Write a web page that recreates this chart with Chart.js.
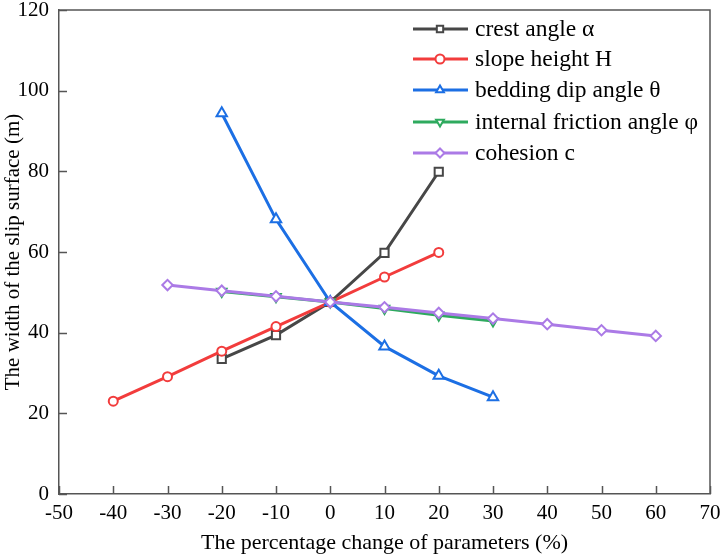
<!DOCTYPE html>
<html>
<head>
<meta charset="utf-8">
<script src="https://cdn.jsdelivr.net/npm/chart.js@4/dist/chart.umd.min.js"></script>
<style>
  body { margin: 0; background: #fff; }
</style>
</head>
<body>
<canvas id="slipChart" width="722" height="556"></canvas>
<script>
// data
const crestX = [-20, -10, 0, 10, 20];
const crestY = [33.5, 39.4, 47.6, 59.8, 79.9];
const heightX = [-40, -30, -20, -10, 0, 10, 20];
const heightY = [23.0, 29.1, 35.4, 41.5, 47.6, 53.8, 59.9];
const dipX = [-20, -10, 0, 10, 20, 30];
const dipY = [94.4, 68.1, 47.6, 36.6, 29.3, 24.0];
const frictionX = [-20, -10, 0, 10, 20, 30];
const frictionY = [50.2, 48.9, 47.6, 46.0, 44.3, 42.9];
const cohesionX = [-30, -20, -10, 0, 10, 20, 30, 40, 50, 60];
const cohesionY = [51.8, 50.4, 49.0, 47.6, 46.3, 44.9, 43.5, 42.1, 40.6, 39.2];

const xTicks = [-50, -40, -30, -20, -10, 0, 10, 20, 30, 40, 50, 60, 70];
const yTicks = [0, 20, 40, 60, 80, 100, 120];

const FONT = '"Liberation Serif", "Times New Roman", serif';
const AXIS = '#555555';

function pts(xs, ys) {
    return xs.map((x, i) => ({ x: x, y: ys[i] }));
}

function series(label, xs, ys, color, style, radius, order, rotation) {
    return {
        label: label,
        data: pts(xs, ys),
        borderColor: color,
        backgroundColor: '#ffffff',
        borderWidth: 3,
        pointStyle: style,
        pointRadius: radius,
        pointHoverRadius: radius,
        pointBorderWidth: 2,
        pointBorderColor: color,
        pointBackgroundColor: '#ffffff',
        pointRotation: rotation || 0,
        tension: 0,
        order: order
    };
}

// inward ticks + top/right frame
const frameTicks = {
    id: 'frameTicks',
    afterDraw(chart) {
        const ctx = chart.ctx;
        const a = chart.chartArea;
        const xs = chart.scales.x, ys = chart.scales.y;
        ctx.save();
        ctx.strokeStyle = AXIS;
        ctx.lineWidth = 1.5;
        ctx.beginPath();
        ctx.moveTo(a.left, a.top);
        ctx.lineTo(a.right, a.top);
        ctx.lineTo(a.right, a.bottom);
        xTicks.forEach(v => {
            const px = Math.round(xs.getPixelForValue(v)) + 0.5;
            ctx.moveTo(px, a.bottom);
            ctx.lineTo(px, a.bottom - 8);
        });
        yTicks.forEach(v => {
            const py = Math.round(ys.getPixelForValue(v)) + 0.5;
            ctx.moveTo(a.left, py);
            ctx.lineTo(a.left + 8, py);
        });
        ctx.stroke();
        ctx.restore();
    }
};

// legend in the top right corner, line + marker sample
const lineLegend = {
    id: 'lineLegend',
    afterDraw(chart) {
        const ctx = chart.ctx;
        const rows = [29, 59, 90, 122, 153];
        ctx.save();
        ctx.font = '23.5px ' + FONT;
        ctx.textBaseline = 'middle';
        chart.data.datasets.forEach((ds, i) => {
            const y = rows[i];
            ctx.strokeStyle = ds.borderColor;
            ctx.lineWidth = 3;
            ctx.beginPath();
            ctx.moveTo(413, y);
            ctx.lineTo(468, y);
            ctx.stroke();
            ctx.fillStyle = '#ffffff';
            ctx.strokeStyle = ds.borderColor;
            ctx.lineWidth = 2;
            Chart.helpers.drawPoint(ctx, {
                pointStyle: ds.pointStyle,
                rotation: ds.pointRotation,
                radius: 4.5,
                borderWidth: 2
            }, 440, y);
            ctx.fillStyle = '#000';
            ctx.fillText(ds.label, 475, y + 1);
        });
        ctx.restore();
    }
};

const ctx = document.getElementById('slipChart').getContext('2d');
const slipChart = new Chart(ctx, {
    type: 'line',
    data: {
        datasets: [
            series('crest angle \u03b1', crestX, crestY, '#474747', 'rect', 5.8, 4),
            series('slope height H', heightX, heightY, '#f23c3c', 'circle', 4.5, 3),
            series('bedding dip angle \u03b8', dipX, dipY, '#1c6fe4', 'triangle', 6, 2),
            series('internal friction angle \u03c6', frictionX, frictionY, '#2eaa5e', 'triangle', 5.5, 1, 180),
            series('cohesion c', cohesionX, cohesionY, '#ab7ae6', 'rectRot', 5.2, 0)
        ]
    },
    options: {
        responsive: false,
        animation: false,
        layout: { padding: { top: 10, right: 12, left: 0, bottom: 0 } },
        plugins: {
            legend: { display: false },
            tooltip: { enabled: false }
        },
        scales: {
            x: {
                type: 'linear',
                min: -50,
                max: 70,
                grid: { display: false, drawTicks: false },
                border: { display: true, color: AXIS, width: 1.5 },
                ticks: {
                    stepSize: 10,
                    padding: 7,
                    color: '#000',
                    maxRotation: 0,
                    font: { family: FONT, size: 21 }
                },
                title: {
                    display: true,
                    text: 'The percentage change of parameters (%)',
                    color: '#000',
                    font: { family: FONT, size: 22 },
                    padding: { top: 0, bottom: 0 }
                },
                afterFit(scale) {
                    scale.height = 62;
                    scale.paddingLeft = 0;
                    scale.paddingRight = 0;
                }
            },
            y: {
                min: 0,
                max: 120,
                grid: { display: false, drawTicks: false },
                border: { display: true, color: AXIS, width: 1.5 },
                ticks: {
                    stepSize: 20,
                    padding: 10,
                    color: '#000',
                    font: { family: FONT, size: 21 }
                },
                title: {
                    display: true,
                    text: 'The width of the slip surface (m)',
                    color: '#000',
                    font: { family: FONT, size: 21 },
                    padding: { top: 1, bottom: 0 }
                },
                afterFit(scale) {
                    scale.width = 59;
                    scale.paddingTop = 0;
                    scale.paddingBottom = 0;
                }
            }
        }
    },
    plugins: [frameTicks, lineLegend]
});
</script>
</body>
</html>
